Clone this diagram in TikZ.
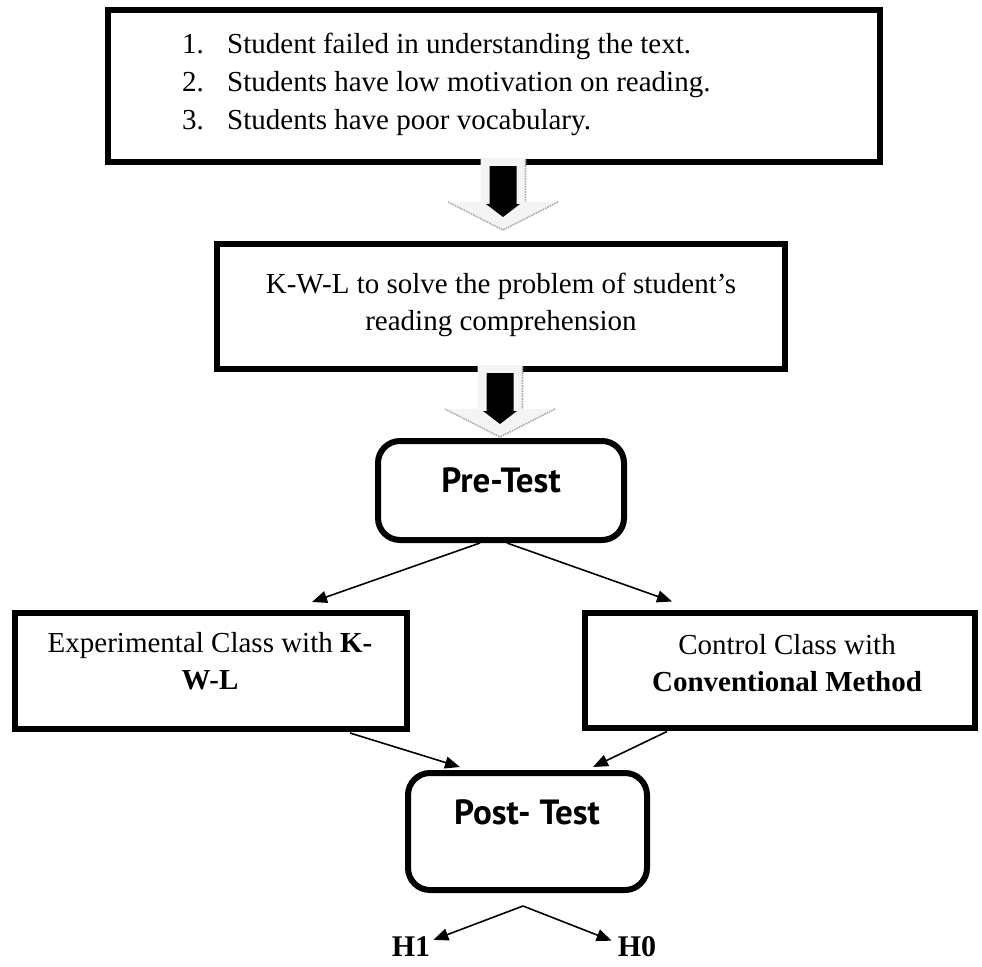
\documentclass[tikz,border=0pt]{standalone}
\usepackage{fontspec}
\setmainfont{Liberation Serif}
\newfontfamily\hsans{PT Sans}
\usetikzlibrary{arrows.meta}
\tikzset{
  frame/.style={draw=black, line width=6pt, inner sep=0pt},
  rframe/.style={frame, rounded corners=22pt},
  conn/.style={line width=1.6pt, -{Triangle[length=15pt,width=12pt]}},
  txt/.style={font=\fontsize{29}{37}\selectfont, align=center, inner sep=0pt},
  ltxt/.style={font=\fontsize{29}{37}\selectfont, inner sep=0pt, anchor=base west},
  btxt/.style={font=\hsans\bfseries\fontsize{35}{40}\selectfont, inner sep=0pt},
  hyp/.style={font=\bfseries\fontsize{30}{34}\selectfont, inner sep=0pt},
  blockarrow/.pic={
    \fill[gray!9] (-22.5,0) -- (22.5,0) -- (22.5,44) -- (55,44) -- (0,72) -- (-55,44) -- (-22.5,44) -- cycle;
    \draw[gray!65, densely dotted, line width=1.6pt] (22.5,2) -- (22.5,44) (55,44) -- (0,72) -- (-55,44);
    \fill[black] (-13.5,8) -- (13.5,8) -- (13.5,46) -- (17,46) -- (0,59) -- (-17,46) -- (-13.5,46) -- cycle;
  }
}
\begin{document}
\begin{tikzpicture}[x=1pt,y=-1pt]
\useasboundingbox[fill=white] (0,0) rectangle (982,966);

% boxes
\node[frame, minimum width=772pt, minimum height=152pt] (prob) at (494,86) {};
\node[frame, minimum width=568pt, minimum height=125pt] (kwl) at (501,306.5) {};
\node[rframe, minimum width=246pt, minimum height=99pt] (pre) at (501,490.5) {};
\node[frame, minimum width=392pt, minimum height=116pt] (lbox) at (211,671) {};
\node[frame, minimum width=390pt, minimum height=115pt] (rbox) at (780,670) {};
\node[rframe, minimum width=239pt, minimum height=117pt] (post) at (527.5,831.5) {};

% texts
\node[ltxt] (n1) at (182,53) {1.};
\node[ltxt] (t1) at (227,53) {Student failed in understanding the text.};
\node[ltxt] (n2) at (182,91) {2.};
\node[ltxt] (t2) at (227,91) {Students have low motivation on reading.};
\node[ltxt] (n3) at (182,129) {3.};
\node[ltxt] (t3) at (227,129) {Students have poor vocabulary.};

\node[txt] (kwlt) at (501,305) {K-W-L to solve the problem of student's\\reading comprehension};
\node[btxt] (pret) at (501,480) {Pre-Test};
\node[txt] (lt) at (210,661) {Experimental Class with \textbf{K-}\\\textbf{W-L}};
\node[txt] (rt) at (787,663) {Control Class with\\\textbf{Conventional Method}};
\node[btxt] (postt) at (527,812) {Post- Test};
\node[hyp] (h1) at (411,947) {H1};
\node[hyp] (h0) at (637,947) {H0};

% block arrows
\pic at (503,158) {blockarrow};
\pic at (500,365) {blockarrow};

% connectors
\draw[conn] ([xshift=-21pt]pre.south) -- ([xshift=101pt,yshift=8pt]lbox.north);
\draw[conn] ([xshift=6pt]pre.south) -- ([xshift=-108pt,yshift=8pt]rbox.north);
\draw[conn] ([xshift=139pt,yshift=-1pt]lbox.south) -- ([xshift=-67.5pt,yshift=3pt]post.north);
\draw[conn] ([xshift=-113pt,yshift=-1pt]rbox.south) -- ([xshift=65.5pt,yshift=3pt]post.north);
\coordinate (apex) at ([xshift=-4.5pt,yshift=-13pt]post.south);
\draw[conn] (apex) -- ([xshift=3pt,yshift=-3pt]h1.north east);
\draw[conn] (apex) -- ([xshift=-6pt,yshift=-4pt]h0.north west);
\end{tikzpicture}
\end{document}
